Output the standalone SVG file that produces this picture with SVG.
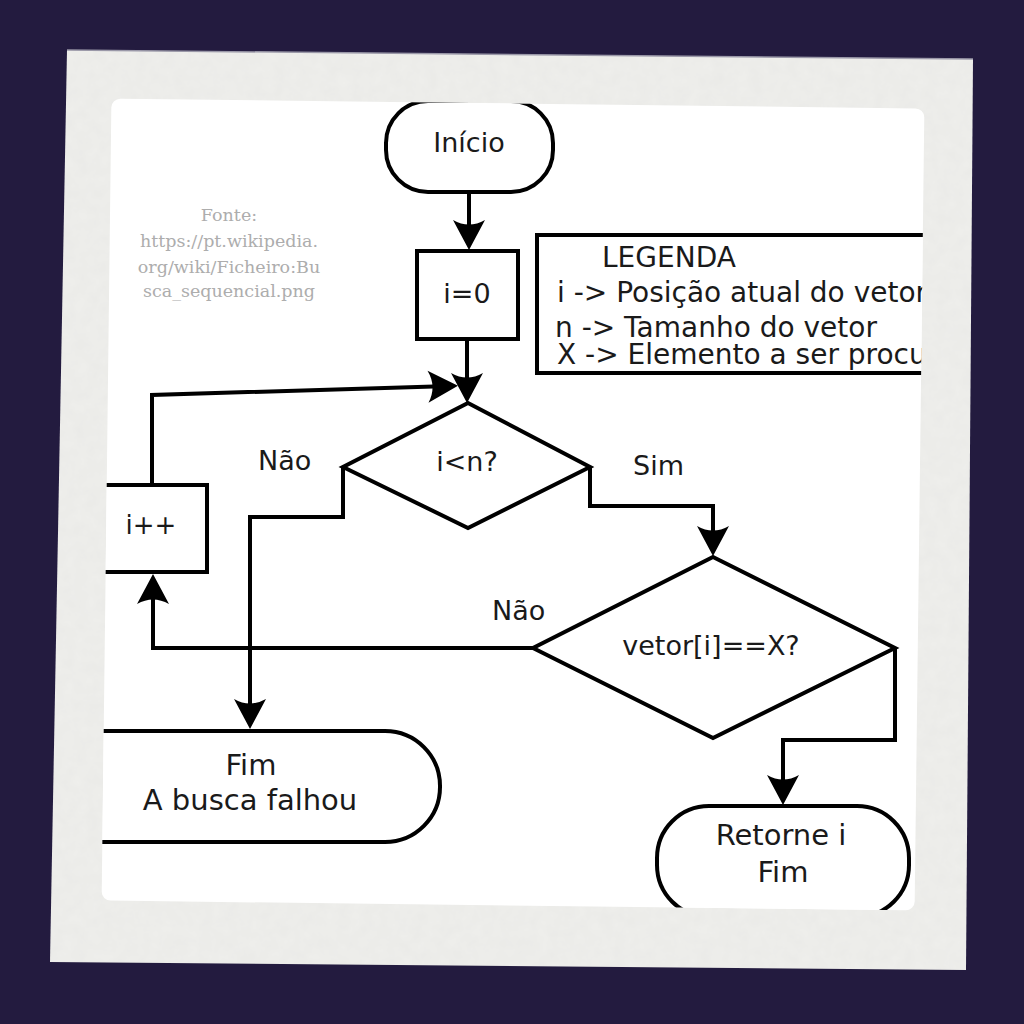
<svg xmlns="http://www.w3.org/2000/svg" width="1024" height="1024" viewBox="0 0 1024 1024">
  <defs>
    <style>
      .ln { fill: none; stroke: #000; stroke-width: 4; stroke-linejoin: miter; }
      .shape { fill: #fff; stroke: #000; stroke-width: 4; }
      .t { font-family: "DejaVu Sans", "Liberation Sans", sans-serif; font-size: 27px; fill: #1a1a1a; }
      .big { font-size: 29px; }
      .lg { font-size: 28px; }
      .c { text-anchor: middle; }
      .src { font-family: "DejaVu Serif", "Liberation Serif", serif; font-size: 17.5px; fill: #adadad; text-anchor: middle; }
    </style>
    <marker id="arr" markerUnits="userSpaceOnUse" orient="auto" refX="-8" refY="0" markerWidth="40" markerHeight="40" overflow="visible">
      <path d="M0,0 L-30,-16 Q-21,0 -30,16 Z" fill="#000"/>
    </marker>
    <clipPath id="inner">
      <rect x="106.5" y="103.5" width="813" height="802" rx="9" transform="rotate(0.7 513 504.5)"/>
    </clipPath>
    <clipPath id="paperClip">
      <polygon points="67,50 973,59 966,970 50,962"/>
    </clipPath>
    <filter id="grain" x="0" y="0" width="100%" height="100%">
      <feTurbulence type="fractalNoise" baseFrequency="0.08" numOctaves="3" seed="4"/>
      <feColorMatrix type="matrix" values="0 0 0 0 0.55  0 0 0 0 0.55  0 0 0 0 0.55  0 0 0 0.12 0"/>
    </filter>
  </defs>

  <rect width="1024" height="1024" fill="#231b3f"/>

  <g id="paper">
    <polygon points="67,50 973,59 966,970 50,962" fill="#efefec"/>
    <rect x="40" y="40" width="950" height="940" filter="url(#grain)" clip-path="url(#paperClip)"/>
    <line x1="67" y1="50" x2="973" y2="59" stroke="#9a98a8" stroke-width="1.5"/>
    <rect x="106.5" y="103.5" width="813" height="802" rx="9" fill="#fff" transform="rotate(0.7 513 504.5)"/>
  </g>

  <g id="source-note">
    <text class="src" x="229" y="221">Fonte:</text>
    <text class="src" x="229" y="247">https://pt.wikipedia.</text>
    <text class="src" x="229" y="273">org/wiki/Ficheiro:Bu</text>
    <text class="src" x="229" y="297">sca_sequencial.png</text>
  </g>

  <g id="flowchart" clip-path="url(#inner)">
    <g id="connectors">
      <path class="ln" d="M469,192 V242" marker-end="url(#arr)"/>
      <path class="ln" d="M467,339 V395" marker-end="url(#arr)"/>
      <path class="ln" d="M152,486 V395 L450,386" marker-end="url(#arr)"/>
      <path class="ln" d="M343,467 V517 H250 V721" marker-end="url(#arr)"/>
      <path class="ln" d="M590,467 V506 H713 V548" marker-end="url(#arr)"/>
      <path class="ln" d="M895,648 V740 H783 V797" marker-end="url(#arr)"/>
      <path class="ln" d="M533,648 H153 V582" marker-end="url(#arr)"/>
    </g>

    <g id="node-inicio">
      <rect class="shape" x="386" y="101" width="167" height="91" rx="42"/>
      <text class="t c" x="469" y="152">Início</text>
    </g>

    <g id="node-i0">
      <rect class="shape" x="417" y="251" width="101" height="88"/>
      <text class="t c" x="467" y="303">i=0</text>
    </g>

    <g id="node-cond1">
      <polygon class="shape" points="468,403 590,467 468,528 343,467"/>
      <text class="t c" x="467" y="471">i&lt;n?</text>
    </g>

    <g id="node-cond2">
      <polygon class="shape" points="713,557 895,648 713,738 533,648"/>
      <text class="t c" x="711" y="655">vetor[i]==X?</text>
    </g>

    <g id="node-inc">
      <rect class="shape" x="92" y="485" width="115" height="87"/>
      <text class="t c" x="151" y="534" style="font-size:26px">i++</text>
    </g>

    <g id="node-fim-falhou">
      <rect class="shape" x="40" y="731" width="400" height="111" rx="55"/>
      <text class="t big c" x="251" y="775">Fim</text>
      <text class="t big c" x="250" y="810">A busca falhou</text>
    </g>

    <g id="node-retorne">
      <rect class="shape" x="657" y="806" width="252" height="111" rx="52"/>
      <text class="t big c" x="781" y="845">Retorne i</text>
      <text class="t big c" x="783" y="882">Fim</text>
    </g>

    <g id="legend">
      <rect class="shape" x="537" y="235" width="460" height="138"/>
      <text class="t lg" x="602" y="267">LEGENDA</text>
      <text class="t lg" x="557" y="302">i -&gt; Posição atual do vetor</text>
      <text class="t lg" x="555" y="337">n -&gt; Tamanho do vetor</text>
      <text class="t lg" x="557" y="364">X -&gt; Elemento a ser procurado</text>
    </g>

    <g id="labels">
      <text class="t" x="258" y="470">Não</text>
      <text class="t" x="633" y="475">Sim</text>
      <text class="t" x="492" y="620">Não</text>
    </g>
  </g>
</svg>
